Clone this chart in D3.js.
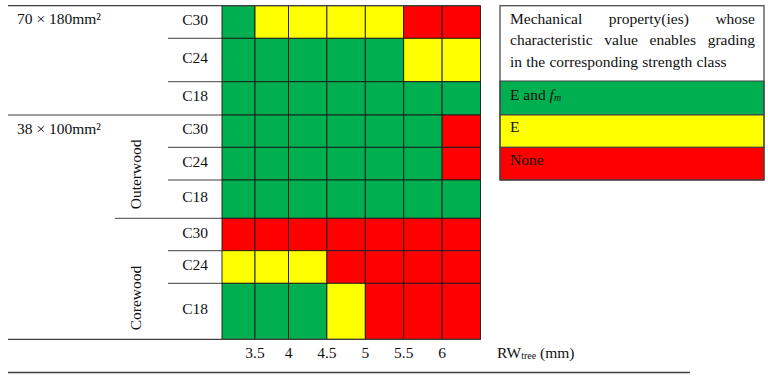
<!DOCTYPE html>
<html>
<head>
<meta charset="utf-8">
<script src="https://cdn.jsdelivr.net/npm/d3@7"></script>
<style>
  body { margin: 0; background: #fff; }
  text { font-family: "Liberation Serif", "DejaVu Serif", serif; fill: #111; }
</style>
</head>
<body>
<div id="chart"></div>
<script>
// grading result per row, one entry per RW column (index into categories)
const categories = ["E and fm", "E", "None"];
const colours = ["#00b050", "#ffff00", "#ff0000"];
const rwLower = [3, 3.5, 4, 4.5, 5, 5.5, 6];
const rwTicks = [3.5, 4, 4.5, 5, 5.5, 6];
const rowSizes = ["70 × 180mm²", "70 × 180mm²", "70 × 180mm²",
                  "38 × 100mm²", "38 × 100mm²", "38 × 100mm²", "38 × 100mm²", "38 × 100mm²", "38 × 100mm²"];
const rowWood = ["", "", "", "Outerwood", "Outerwood", "Outerwood", "Corewood", "Corewood", "Corewood"];
const rowClasses = ["C30", "C24", "C18", "C30", "C24", "C18", "C30", "C24", "C18"];
const grading = [
    [0, 1, 1, 1, 1, 2, 2],
    [0, 0, 0, 0, 0, 1, 1],
    [0, 0, 0, 0, 0, 0, 0],
    [0, 0, 0, 0, 0, 0, 2],
    [0, 0, 0, 0, 0, 0, 2],
    [0, 0, 0, 0, 0, 0, 0],
    [2, 2, 2, 2, 2, 2, 2],
    [1, 1, 1, 2, 2, 2, 2],
    [0, 0, 0, 1, 2, 2, 2]
];

const width = 768, height = 378;
const gridLeft = 222;
const fs = "15.5px";

const svg = d3.select("#chart")
    .append("svg")
    .attr("width", width)
    .attr("height", height);

// columns are a bit narrower for the first two classes
const x = d3.scaleLinear()
    .domain([3, 3.5, 4, 6.5])
    .range([gridLeft, gridLeft + 33, gridLeft + 66.5, gridLeft + 258.5]);

const y = d3.scaleLinear()
    .domain(d3.range(10))
    .range([5.7, 38.3, 81.7, 115, 147.3, 180, 218.3, 250.7, 283.3, 339.3]);

const color = d3.scaleOrdinal()
    .domain(d3.range(categories.length))
    .range(colours);

// cells
const cells = [];
grading.forEach((row, r) => row.forEach((v, c) => cells.push({r, c, v})));

svg.selectAll("rect.cell")
    .data(cells)
    .enter()
    .append("rect")
    .attr("class", "cell")
    .attr("x", d => x(rwLower[d.c]))
    .attr("y", d => y(d.r))
    .attr("width", d => x(rwLower[d.c] + 0.5) - x(rwLower[d.c]))
    .attr("height", d => y(d.r + 1) - y(d.r))
    .attr("fill", d => color(d.v))
    .attr("stroke", "#1a1a1a")
    .attr("stroke-width", 0.9);

// table rules
const rule = (x1, x2, yy, w) => svg.append("line")
    .attr("x1", x1).attr("x2", x2)
    .attr("y1", yy).attr("y2", yy)
    .attr("stroke", "#404040")
    .attr("stroke-width", w || 1);

rule(8, x(6.5), y(0), 1.3);
rule(8, x(6.5), y(9), 1.3);
rule(8, 690, 372.5, 1.3);
for (let i = 1; i < rowClasses.length; i++) {
    let x0 = 168;
    if (rowSizes[i] !== rowSizes[i - 1]) x0 = 8;
    else if (rowWood[i] !== rowWood[i - 1]) x0 = 115;
    rule(x0, gridLeft, y(i));
}

// row labels
svg.selectAll("text.cls")
    .data(rowClasses)
    .enter()
    .append("text")
    .attr("x", 208)
    .attr("y", (d, i) => (y(i) + y(i + 1)) / 2 + 3)
    .attr("text-anchor", "end")
    .style("font-size", fs)
    .text(d => d);

// size labels
const sizeStarts = rowSizes.map((s, i) => i).filter(i => i === 0 || rowSizes[i] !== rowSizes[i - 1]);
svg.selectAll("text.size")
    .data(sizeStarts)
    .enter()
    .append("text")
    .attr("x", 17)
    .attr("y", i => y(i) + 18.5)
    .style("font-size", fs)
    .text(i => rowSizes[i]);

// wood labels, rotated, anchored at the bottom of their group
const woodGroups = d3.groups(rowWood.map((w, i) => ({w, i})).filter(d => d.w), d => d.w);
woodGroups.forEach(([name, rows]) => {
    const bottom = y(d3.max(rows, d => d.i) + 1) - 9;
    svg.append("text")
        .attr("transform", `translate(141,${bottom}) rotate(-90)`)
        .style("font-size", fs)
        .text(name);
});

// x tick labels
svg.selectAll("text.tick")
    .data(rwTicks)
    .enter()
    .append("text")
    .attr("x", d => x(d))
    .attr("y", 358)
    .attr("text-anchor", "middle")
    .style("font-size", fs)
    .text(d => d);

const xt = svg.append("text")
    .attr("x", 497)
    .attr("y", 358)
    .style("font-size", fs);
xt.append("tspan").text("RW");
xt.append("tspan").style("font-size", "10px").attr("dy", 1).text("tree");
xt.append("tspan").attr("dy", -1).text(" (mm)");

// legend
const lg = {x: 500, w: 264, top: 5.7, rows: [81, 115, 147.3, 180]};

svg.selectAll("rect.legend")
    .data(categories)
    .enter()
    .append("rect")
    .attr("x", lg.x)
    .attr("y", (d, i) => lg.rows[i])
    .attr("width", lg.w)
    .attr("height", (d, i) => lg.rows[i + 1] - lg.rows[i])
    .attr("fill", (d, i) => color(i))
    .attr("stroke", "#404040")
    .attr("stroke-width", 1);

svg.append("rect")
    .attr("x", lg.x)
    .attr("y", lg.top)
    .attr("width", lg.w)
    .attr("height", lg.rows[3] - lg.top)
    .attr("fill", "none")
    .attr("stroke", "#404040")
    .attr("stroke-width", 1.2);

// justified header text
const lines = [
    ["Mechanical", "property(ies)", "whose"],
    ["characteristic", "value", "enables", "grading"],
    ["in", "the", "corresponding", "strength", "class"]
];
const textLeft = 510, textWidth = 245;
lines.forEach((words, li) => {
    const yy = 23.5 + li * 21.6;
    const nodes = words.map(w => svg.append("text")
        .attr("y", yy)
        .style("font-size", fs)
        .text(w));
    const widths = nodes.map(n => n.node().getComputedTextLength());
    const last = li === lines.length - 1;
    const space = last ? 4.2 : (textWidth - d3.sum(widths)) / (words.length - 1);
    let cx = textLeft;
    nodes.forEach((n, k) => {
        n.attr("x", cx);
        cx += widths[k] + space;
    });
});

const labelY = [100, 131.5, 165];
const l0 = svg.append("text").attr("x", 510).attr("y", labelY[0]).style("font-size", fs);
l0.append("tspan").text("E and ");
l0.append("tspan").style("font-style", "italic").text("f");
l0.append("tspan").style("font-style", "italic").style("font-size", "10px").attr("dy", 1).text("m");

svg.append("text").attr("x", 510).attr("y", labelY[1]).style("font-size", fs).text(categories[1]);
svg.append("text").attr("x", 510).attr("y", labelY[2]).style("font-size", fs).text(categories[2]);
</script>
</body>
</html>
